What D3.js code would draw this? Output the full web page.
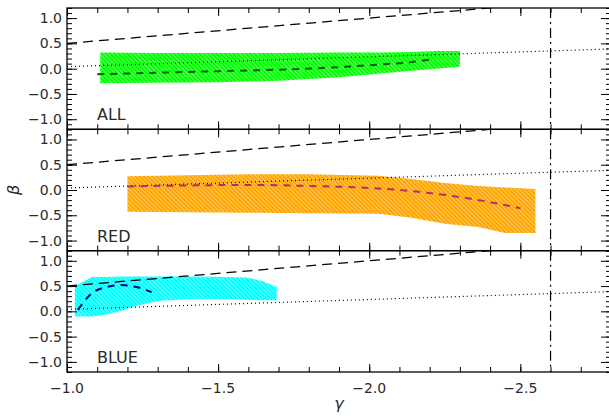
<!DOCTYPE html>
<meta charset="utf-8">
<style>
body { margin: 0; background: #fff; }
text { font-family: "DejaVu Sans", sans-serif; fill: #2a2a2a; }
.axis path { display: none; }
.axis line { stroke: #000; stroke-width: 1; }
.frame { fill: none; stroke: #000; stroke-width: 1.3; }
</style>
<body>
<script src="https://d3js.org/d3.v7.min.js"></script>
<script>

// reference lines, same in every panel
var refGamma = [-1.0, -2.8];
var refDashed = [0.5, 1.4];
var refDotted = [0.04, 0.39];
var gammaCut = -2.6;

// ALL sample
var allGamma = [-1.11, -1.3, -1.5, -1.7, -1.9, -2.03, -2.14, -2.22, -2.3];
var allHi    = [0.32, 0.31, 0.31, 0.31, 0.32, 0.32, 0.33, 0.35, 0.35];
var allLo    = [-0.29, -0.28, -0.27, -0.24, -0.17, -0.1, -0.04, 0.0, 0.04];
var allFitGamma = [-1.1, -1.3, -1.5, -1.7, -1.9, -2.03, -2.14, -2.2];
var allFit      = [-0.11, -0.08, -0.05, -0.02, 0.03, 0.08, 0.13, 0.18];

// RED sample
var redGamma = [-1.2, -1.4, -1.6, -1.8, -2.03, -2.14, -2.25, -2.36, -2.45, -2.55];
var redHi    = [0.27, 0.29, 0.31, 0.31, 0.28, 0.22, 0.14, 0.08, 0.05, 0.02];
var redLo    = [-0.43, -0.44, -0.45, -0.46, -0.47, -0.55, -0.67, -0.73, -0.85, -0.85];
var redFitGamma = [-1.2, -1.4, -1.6, -1.8, -2.0, -2.1, -2.2, -2.3, -2.4, -2.5];
var redFit      = [0.07, 0.09, 0.1, 0.08, 0.04, 0.0, -0.06, -0.14, -0.24, -0.36];

// BLUE sample
var blueGamma = [-1.026, -1.083, -1.125, -1.175, -1.218, -1.265, -1.307, -1.397, -1.529, -1.595, -1.645, -1.694];
var blueHi    = [0.5, 0.68, 0.68, 0.69, 0.69, 0.69, 0.69, 0.69, 0.68, 0.67, 0.6, 0.48];
var blueLo    = [-0.1, -0.1, -0.07, 0.0, 0.09, 0.16, 0.21, 0.24, 0.24, 0.23, 0.22, 0.22];
var blueFitGamma = [-1.036, -1.083, -1.13, -1.18, -1.23, -1.28];
var blueFit      = [0.03, 0.36, 0.48, 0.52, 0.48, 0.38];

var panels = [
  {name: "ALL",  fill: "#00ff00", fit: "#0b5a0b", g: allGamma,  hi: allHi,  lo: allLo,  fg: allFitGamma,  f: allFit},
  {name: "RED",  fill: "#ffa500", fit: "#b0306a", g: redGamma,  hi: redHi,  lo: redLo,  fg: redFitGamma,  f: redFit},
  {name: "BLUE", fill: "#00ffff", fit: "#000080", g: blueGamma, hi: blueHi, lo: blueLo, fg: blueFitGamma, f: blueFit}
];

var yTickVals = [1.0, 0.5, 0.0, -0.5, -1.0];
var xTickVals = [-1.0, -1.5, -2.0, -2.5];

// plot box (note: "top" is reserved on window, so use other names)
var padL = 67, padR = 611, padT = 8, padB = 372;
var ph = (padB - padT) / panels.length;

var svg = d3.select("body").append("svg")
    .attr("width", 609)
    .attr("height", 416);

var defs = svg.append("defs");

var x = d3.scaleLinear().domain([-1.0, -2.8]).range([padL, padR]);

var minorX = d3.range(-10, -29, -1).map(function(d) { return d / 10; });
var minorY = d3.range(-12, 13).map(function(d) { return d / 10; });

panels.forEach(function(p, i) {
  var y0 = padT + i * ph;
  var y = d3.scaleLinear().domain([-1.2, 1.2]).range([y0 + ph, y0]);

  // hatch pattern for the band
  var pat = defs.append("pattern")
      .attr("id", "hatch" + i)
      .attr("patternUnits", "userSpaceOnUse")
      .attr("width", 3).attr("height", 3)
      .attr("patternTransform", "rotate(-45)");
  pat.append("rect").attr("width", 2.6).attr("height", 3).attr("fill", p.fill);

  defs.append("clipPath").attr("id", "clip" + i)
    .append("rect")
      .attr("x", padL).attr("y", y0)
      .attr("width", padR - padL).attr("height", ph);

  var g = svg.append("g").attr("clip-path", "url(#clip" + i + ")");

  var band = p.g.map(function(d, j) { return {g: d, hi: p.hi[j], lo: p.lo[j]}; });
  g.append("path")
      .datum(band)
      .attr("fill", "url(#hatch" + i + ")")
      .attr("d", d3.area()
        .x(function(d) { return x(d.g); })
        .y0(function(d) { return y(d.lo); })
        .y1(function(d) { return y(d.hi); }));

  var line = d3.line()
      .x(function(d) { return x(d[0]); })
      .y(function(d) { return y(d[1]); });

  // dotted reference
  g.append("path")
      .datum(d3.zip(refGamma, refDotted))
      .attr("fill", "none").attr("stroke", "#000")
      .attr("stroke-width", 1.2).attr("stroke-dasharray", "1,3")
      .attr("d", line);

  // dashed reference
  g.append("path")
      .datum(d3.zip(refGamma, refDashed))
      .attr("fill", "none").attr("stroke", "#000")
      .attr("stroke-width", 1.2).attr("stroke-dasharray", "10,6")
      .attr("d", line);

  // fit of the sample
  g.append("path")
      .datum(d3.zip(p.fg, p.f))
      .attr("fill", "none").attr("stroke", p.fit)
      .attr("stroke-width", 2).attr("stroke-dasharray", "7,6")
      .attr("d", line.curve(d3.curveMonotoneX));

  // vertical cut
  g.append("line")
      .attr("x1", x(gammaCut)).attr("x2", x(gammaCut))
      .attr("y1", y0).attr("y2", y0 + ph)
      .attr("stroke", "#000").attr("stroke-width", 1.2)
      .attr("stroke-dasharray", "10,4,2,4");

  // ticks: left / right
  svg.append("g").attr("class", "axis")
      .attr("transform", "translate(" + padL + ",0)")
      .call(d3.axisLeft(y).tickValues(minorY).tickSize(-5).tickFormat(""));
  svg.append("g").attr("class", "axis")
      .attr("transform", "translate(" + padL + ",0)")
      .call(d3.axisLeft(y).tickValues(yTickVals).tickSize(-10).tickFormat(""));
  svg.append("g").attr("class", "axis")
      .attr("transform", "translate(" + padR + ",0)")
      .call(d3.axisRight(y).tickValues(minorY).tickSize(-5).tickFormat(""));
  svg.append("g").attr("class", "axis")
      .attr("transform", "translate(" + padR + ",0)")
      .call(d3.axisRight(y).tickValues(yTickVals).tickSize(-10).tickFormat(""));

  // ticks: top / bottom
  svg.append("g").attr("class", "axis")
      .attr("transform", "translate(0," + (y0 + ph) + ")")
      .call(d3.axisBottom(x).tickValues(minorX).tickSize(-5).tickFormat(""));
  svg.append("g").attr("class", "axis")
      .attr("transform", "translate(0," + (y0 + ph) + ")")
      .call(d3.axisBottom(x).tickValues(xTickVals).tickSize(-8).tickFormat(""));
  svg.append("g").attr("class", "axis")
      .attr("transform", "translate(0," + y0 + ")")
      .call(d3.axisTop(x).tickValues(minorX).tickSize(-5).tickFormat(""));
  svg.append("g").attr("class", "axis")
      .attr("transform", "translate(0," + y0 + ")")
      .call(d3.axisTop(x).tickValues(xTickVals).tickSize(-8).tickFormat(""));

  // y labels
  svg.append("g").selectAll("text")
      .data(yTickVals).enter().append("text")
      .attr("x", padL - 5)
      .attr("y", function(d) { return y(d); })
      .attr("dy", "0.36em")
      .attr("text-anchor", "end")
      .style("font-size", "14px")
      .text(function(d) { return d.toFixed(1).replace("-", "\u2212"); });

  // frame
  svg.append("rect").attr("class", "frame")
      .attr("x", padL).attr("y", y0)
      .attr("width", padR - padL).attr("height", ph);

  // panel name
  svg.append("text")
      .attr("x", 97)
      .attr("y", y(-1.02))
      .style("font-size", "16px")
      .text(p.name);
});

// x labels
svg.append("g").selectAll("text")
    .data(xTickVals).enter().append("text")
    .attr("x", function(d) { return x(d); })
    .attr("y", 393)
    .attr("text-anchor", "middle")
    .style("font-size", "14px")
    .text(function(d) { return d.toFixed(1).replace("-", "\u2212"); });

svg.append("text")
    .attr("x", (padL + padR) / 2)
    .attr("y", 409)
    .attr("text-anchor", "middle")
    .style("font-size", "16px")
    .style("font-style", "italic")
    .text("\u03b3");

svg.append("text")
    .attr("transform", "translate(19," + ((padT + padB) / 2) + ") rotate(-90)")
    .attr("text-anchor", "middle")
    .style("font-size", "16px")
    .style("font-style", "italic")
    .text("\u03b2");

</script>
</body>
